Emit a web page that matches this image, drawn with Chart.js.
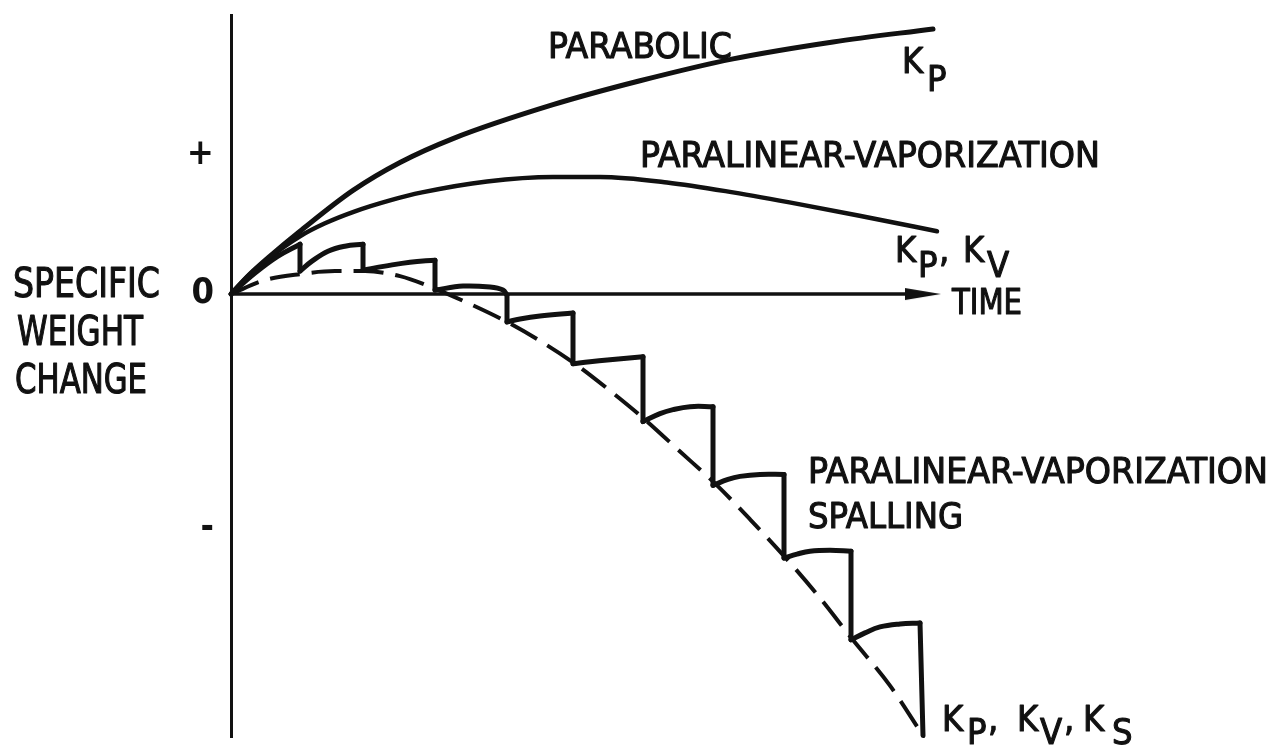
<!DOCTYPE html>
<html>
<head>
<meta charset="utf-8">
<title>Specific weight change vs time</title>
<script src="https://cdn.jsdelivr.net/npm/chart.js@4.4.1/dist/chart.umd.min.js"></script>
<style>
  html, body { margin: 0; padding: 0; background: #fff; }
  canvas { display: block; }
</style>
</head>
<body>
<canvas id="grafico" width="1284" height="747"></canvas>
<script>
// ======================
// DADOS (unidades arbitrárias: tempo / variação de peso)
// ======================

const parabolicT = [0, 1.9, 3.9, 6.9, 12.2, 16.9, 22.2, 32.2, 40.9, 50.2, 60.2, 70.2];
const parabolicW = [0, 2.0, 3.8, 6.3, 10.4, 13.2, 15.6, 19.0, 21.4, 23.6, 25.3, 26.6];

const vaporT = [0, 1.9, 3.9, 6.9, 9.4, 12.4, 15.9, 19.1, 25.6, 32.2, 36.9, 43.6, 50.2, 56.9, 63.6, 70.6];
const vaporW = [0, 2.0, 3.7, 5.8, 7.1, 8.3, 9.4, 10.2, 11.3, 11.75, 11.75, 11.2, 10.2, 9.0, 7.7, 6.3];

// curva média (tracejada) do caso com lascamento
const meanT = [0, 3.4, 6.9, 10.4, 13.4, 16.9, 20.5, 23.9, 27.6, 30.9, 34.4, 37.9, 41.4, 44.9, 48.6, 51.9, 55.4, 58.9, 62.1, 65.9, 69.2];
const meanW = [0, 1.4, 2.0, 2.3, 2.3, 1.8, 0.5, -1.0, -2.8, -4.7, -7.0, -9.7, -12.6, -15.8, -19.2, -22.6, -26.4, -30.5, -34.6, -39.3, -44.3];

// dentes do lascamento: cada um sobe a partir da curva média até o canto
const spallT = [
  [0, 2.4, 4.7, 6.9],
  [6.9, 8.1, 9.7, 11.4, 13.2],
  [13.2, 15.4, 17.9, 20.4],
  [20.4, 23.2, 25.9, 27.2, 27.6],
  [27.6, 28.9, 30.9, 34.2],
  [34.2, 35.9, 37.9, 41.2],
  [41.2, 42.9, 44.2, 45.9, 48.2],
  [48.2, 49.7, 50.9, 52.9, 55.3],
  [55.3, 56.6, 57.9, 59.9, 62.0],
  [62.0, 63.4, 64.9, 66.9, 68.9]
];
const spallW = [
  [0, 2.1, 3.8, 5.0],
  [2.3, 3.3, 4.3, 4.8, 5.0],
  [2.4, 2.8, 3.2, 3.4],
  [0.4, 0.8, 0.7, 0.4, -0.1],
  [-2.8, -2.5, -2.2, -1.9],
  [-7.0, -6.8, -6.6, -6.3],
  [-12.8, -12.0, -11.6, -11.3, -11.3],
  [-19.2, -18.6, -18.3, -18.1, -18.1],
  [-26.5, -26.1, -25.8, -25.7, -25.8],
  [-34.7, -34.0, -33.4, -33.1, -33.0]
];
const spallEndT = 69.2;
const spallEndW = -44.3;

// eixo do tempo (até a ponta da seta)
const timeAxisT = [0, 69.2];
const timeAxisW = [0, 0];

const yTickValues = [14, 0, -23.5];
const yTickLabels = ["+", "0", "-"];

const FONTE = "'Liberation Sans Narrow', 'DejaVu Sans Condensed', 'Liberation Sans', sans-serif";
const TINTA = "#111";

// ======================
// HELPERS
// ======================

function toPoints(ts, ws) {
  return ts.map((t, i) => ({ x: t, y: ws[i] }));
}

function riseSegments() {
  const pts = [];
  spallT.forEach((ts, k) => {
    if (k > 0) pts.push({ x: ts[0], y: null });
    pts.push(...toPoints(ts, spallW[k]));
  });
  return pts;
}

function dropSegments() {
  const pts = [];
  spallT.forEach((ts, k) => {
    const last = ts.length - 1;
    const topo = { x: ts[last], y: spallW[k][last] };
    const fundo = k + 1 < spallT.length
      ? { x: spallT[k + 1][0], y: spallW[k + 1][0] }
      : { x: spallEndT, y: spallEndW };
    if (k > 0) pts.push({ x: topo.x, y: null });
    pts.push(topo, fundo);
  });
  return pts;
}

function criaSeta() {
  const c = document.createElement("canvas");
  c.width = 36;
  c.height = 14;
  const g = c.getContext("2d");
  g.fillStyle = TINTA;
  g.beginPath();
  g.moveTo(0, 1);
  g.lineTo(36, 7);
  g.lineTo(0, 13);
  g.closePath();
  g.fill();
  return c;
}

// ======================
// TEXTOS
// ======================

const textos = [
  { text: "PARABOLIC", x: 548, y: 58, w: 184, size: 36 },
  { text: "PARALINEAR-VAPORIZATION", x: 640, y: 167, w: 460, size: 36 },
  { text: "PARALINEAR-VAPORIZATION", x: 808, y: 483, w: 460, size: 36 },
  { text: "SPALLING", x: 808, y: 528, w: 155, size: 36 },
  { text: "TIME", x: 952, y: 314, w: 70, size: 36 },
  { text: "SPECIFIC", x: 13, y: 297, w: 147, size: 40 },
  { text: "WEIGHT", x: 17, y: 345, w: 126, size: 40 },
  { text: "CHANGE", x: 15, y: 393, w: 132, size: 40 }
];

// rótulos com subscrito: [texto, x, linha de base]
const constantes = [
  ["K", 902, 73], ["P", 927, 91],
  ["K", 895, 262], ["P", 918, 277], [",", 939, 262], ["K", 963, 262], ["V", 987, 277],
  ["K", 942, 731], ["P", 967, 744], [",", 988, 731], ["K", 1017, 731], ["V", 1040, 744],
  [",", 1064, 731], ["K", 1083, 731], ["S", 1112, 744]
];

function escreve(ctx, s, x, y) {
  ctx.fillText(s, x, y);
  ctx.strokeText(s, x, y);
}

const textPlugin = {
  id: "textos",
  beforeDraw(chart) {
    const ctx = chart.ctx;
    ctx.save();
    ctx.fillStyle = "#fff";
    ctx.fillRect(0, 0, chart.width, chart.height);
    ctx.restore();
  },
  afterDraw(chart) {
    const ctx = chart.ctx;
    ctx.save();
    ctx.fillStyle = TINTA;
    ctx.strokeStyle = TINTA;
    ctx.lineWidth = 1.1;
    ctx.lineJoin = "round";
    ctx.textBaseline = "alphabetic";
    ctx.textAlign = "left";
    textos.forEach(t => {
      ctx.font = `${t.size}px ${FONTE}`;
      const largura = ctx.measureText(t.text).width;
      ctx.save();
      ctx.translate(t.x, t.y);
      ctx.scale(t.w / largura, 1);
      escreve(ctx, t.text, 0, 0);
      ctx.restore();
    });
    ctx.font = `36px ${FONTE}`;
    constantes.forEach(([s, x, y]) => escreve(ctx, s, x, y));
    ctx.restore();
  }
};

// ======================
// GRÁFICO
// ======================

const linhaBase = {
  borderColor: TINTA,
  pointRadius: 0,
  fill: false,
  clip: 12,
  borderJoinStyle: "round",
  borderCapStyle: "round"
};

new Chart(document.getElementById("grafico"), {
  type: "line",
  data: {
    datasets: [
      {
        ...linhaBase,
        label: "time axis",
        data: toPoints(timeAxisT, timeAxisW),
        borderWidth: 3.5,
        borderCapStyle: "butt",
        pointStyle: criaSeta(),
        pointRadius: ctx => (ctx.dataIndex === timeAxisT.length - 1 ? 6 : 0)
      },
      {
        ...linhaBase,
        label: "Parabolic",
        data: toPoints(parabolicT, parabolicW),
        borderWidth: 5,
        cubicInterpolationMode: "monotone"
      },
      {
        ...linhaBase,
        label: "Paralinear-vaporization",
        data: toPoints(vaporT, vaporW),
        borderWidth: 4.5,
        cubicInterpolationMode: "monotone"
      },
      {
        ...linhaBase,
        label: "Paralinear-vaporization spalling (mean)",
        data: toPoints(meanT, meanW),
        borderWidth: 4,
        borderDash: [30, 12],
        borderCapStyle: "butt",
        cubicInterpolationMode: "monotone"
      },
      {
        ...linhaBase,
        label: "Spalling growth",
        data: riseSegments(),
        borderWidth: 5,
        tension: 0.4,
        spanGaps: false
      },
      {
        ...linhaBase,
        label: "Spalling drops",
        data: dropSegments(),
        borderWidth: 5,
        tension: 0,
        spanGaps: false
      }
    ]
  },
  options: {
    responsive: false,
    animation: false,
    events: [],
    layout: { padding: { top: 15, bottom: 7, left: 0, right: 53 } },
    plugins: {
      legend: { display: false },
      tooltip: { enabled: false }
    },
    scales: {
      x: {
        type: "linear",
        min: 0,
        max: 100,
        display: false
      },
      y: {
        type: "linear",
        min: -44.5,
        max: 28,
        border: { display: true, color: TINTA, width: 3 },
        grid: { display: false, drawTicks: false },
        ticks: {
          autoSkip: false,
          padding: 17,
          color: TINTA,
          font: { family: FONTE, size: 36, weight: "bold" },
          callback: v => {
            const i = yTickValues.indexOf(v);
            return i >= 0 ? yTickLabels[i] : "";
          }
        },
        afterBuildTicks: s => {
          s.ticks = yTickValues.map(v => ({ value: v }));
        },
        afterFit: s => {
          s.width = 231;
          s.paddingTop = 0;
          s.paddingBottom = 0;
        }
      }
    }
  },
  plugins: [textPlugin]
});
</script>
</body>
</html>
